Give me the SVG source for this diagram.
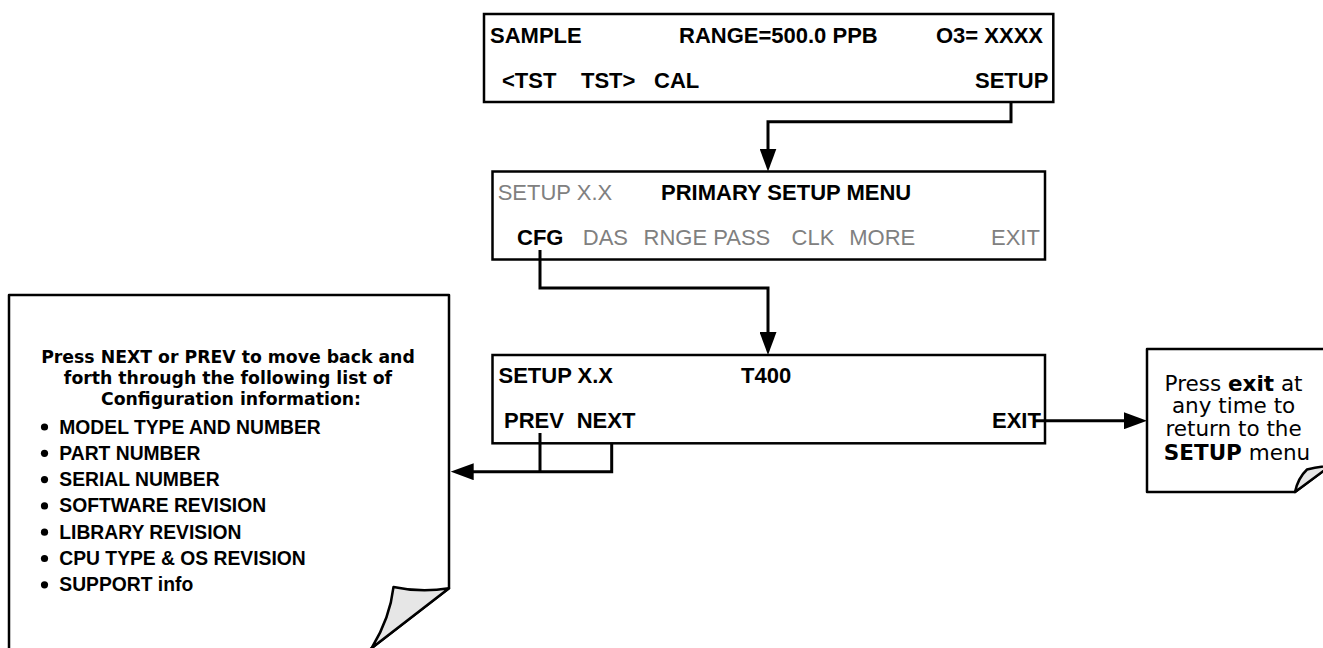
<svg xmlns="http://www.w3.org/2000/svg" width="1323" height="648" viewBox="0 0 1323 648">
<defs>
<style>
.box{fill:#fff;stroke:#000;stroke-width:2.5}
.lcd{font-family:"Liberation Sans",Arial,sans-serif;font-size:22px;fill:#000}
.b{font-weight:bold}
.g{fill:#808080}
.conn{fill:none;stroke:#000;stroke-width:3}
.note{fill:#fff;stroke:#000;stroke-width:2.5;stroke-linejoin:round}
.fold{fill:#e6e6e6;stroke:#000;stroke-width:2.5;stroke-linejoin:round}
.nt{font-family:"DejaVu Sans",Verdana,sans-serif;fill:#000}
.li{font-family:"Liberation Sans",Arial,sans-serif;font-size:19.3px;font-weight:bold;fill:#000}
</style>
<marker id="ah" markerUnits="userSpaceOnUse" markerWidth="23" markerHeight="17" viewBox="0 0 23 17" refX="13" refY="8.5" orient="auto">
<path d="M0,0 L23,8.5 L0,17 z" fill="#000"/>
</marker>
</defs>
<rect width="1323" height="648" fill="#fff"/>

<g id="box-sample">
<rect class="box" x="484" y="14" width="569.3" height="88"/>
<text class="lcd b" x="490" y="42.5">SAMPLE</text>
<text class="lcd b" x="679" y="42.5">RANGE=500.0 PPB</text>
<text class="lcd b" x="936" y="42.5">O3= XXXX</text>
<text class="lcd b" x="502" y="88.3">&lt;TST</text>
<text class="lcd b" x="581" y="88.3">TST&gt;</text>
<text class="lcd b" x="654" y="88.3">CAL</text>
<text class="lcd b" x="975" y="88.3">SETUP</text>
</g>

<g id="box-primary-setup">
<rect class="box" x="492.5" y="171.5" width="552.5" height="88"/>
<text class="lcd g" x="497.7" y="200">SETUP X.X</text>
<text class="lcd b" x="661" y="200">PRIMARY SETUP MENU</text>
<text class="lcd b" x="517" y="245">CFG</text>
<text class="lcd g" x="582.8" y="245">DAS</text>
<text class="lcd g" x="643.5" y="245">RNGE PASS</text>
<text class="lcd g" x="791.6" y="245">CLK</text>
<text class="lcd g" x="849.3" y="245">MORE</text>
<text class="lcd g" x="991" y="245">EXIT</text>
</g>

<g id="box-cfg">
<rect class="box" x="492.5" y="355" width="552.5" height="88.3"/>
<text class="lcd b" x="498.5" y="382.7">SETUP X.X</text>
<text class="lcd b" x="741" y="382.7">T400</text>
<text class="lcd b" x="504" y="428.3">PREV</text>
<text class="lcd b" x="576.7" y="428.3">NEXT</text>
<text class="lcd b" x="992" y="428.3">EXIT</text>
</g>

<g id="note-config">
<path class="note" d="M9,295 H449 V588.3 L364,654 H9 Z"/>
<path class="fold" d="M449,588.3 Q421,593 393.5,587 Q390,618 371.7,648 Z"/>
<text class="nt" font-size="17.3" font-weight="bold" text-anchor="middle">
<tspan x="231" y="362.7">Press NEXT or PREV to move back and</tspan>
<tspan x="231" y="383.8">forth through the following list of</tspan>
<tspan x="231" y="405">Configuration information:</tspan>
</text>
<g fill="#000">
<circle cx="44.5" cy="427" r="3.6"/>
<circle cx="44.5" cy="453.3" r="3.6"/>
<circle cx="44.5" cy="479.6" r="3.6"/>
<circle cx="44.5" cy="505.9" r="3.6"/>
<circle cx="44.5" cy="532.2" r="3.6"/>
<circle cx="44.5" cy="558.5" r="3.6"/>
<circle cx="44.5" cy="584.8" r="3.6"/>
</g>
<text class="li" x="59.3" y="433.5">MODEL TYPE AND NUMBER</text>
<text class="li" x="59.3" y="459.8">PART NUMBER</text>
<text class="li" x="59.3" y="486.1">SERIAL NUMBER</text>
<text class="li" x="59.3" y="512.4">SOFTWARE REVISION</text>
<text class="li" x="59.3" y="538.7">LIBRARY REVISION</text>
<text class="li" x="59.3" y="565">CPU TYPE &amp; OS REVISION</text>
<text class="li" x="59.3" y="591.3">SUPPORT info</text>
</g>

<g id="note-exit">
<path class="note" d="M1147,349 H1330 V466 L1295,492 H1147 Z"/>
<path class="fold" d="M1295,492 Q1298,478 1307,469.5 Q1318,466.5 1330,466 Z"/>
<text class="nt" font-size="21.5" text-anchor="middle">
<tspan x="1237" y="390.5">Press <tspan font-weight="bold">exit</tspan> at</tspan>
<tspan x="1237" y="413.3">any time to</tspan>
<tspan x="1237" y="436.2">return to the</tspan>
<tspan x="1237" y="459.5"><tspan font-weight="bold">SETUP</tspan> menu</tspan>
</text>
</g>

<g id="connectors">
<path class="conn" d="M1011,102 V121.7 H768 V161.5" marker-end="url(#ah)"/>
<path class="conn" d="M540,250 V288 H768 V345" marker-end="url(#ah)"/>
<path class="conn" d="M540,433 V471.7"/>
<path class="conn" d="M611.7,443 V471.7 H460.7" marker-end="url(#ah)"/>
<path class="conn" d="M1034,420.7 H1137" marker-end="url(#ah)"/>
</g>
</svg>
